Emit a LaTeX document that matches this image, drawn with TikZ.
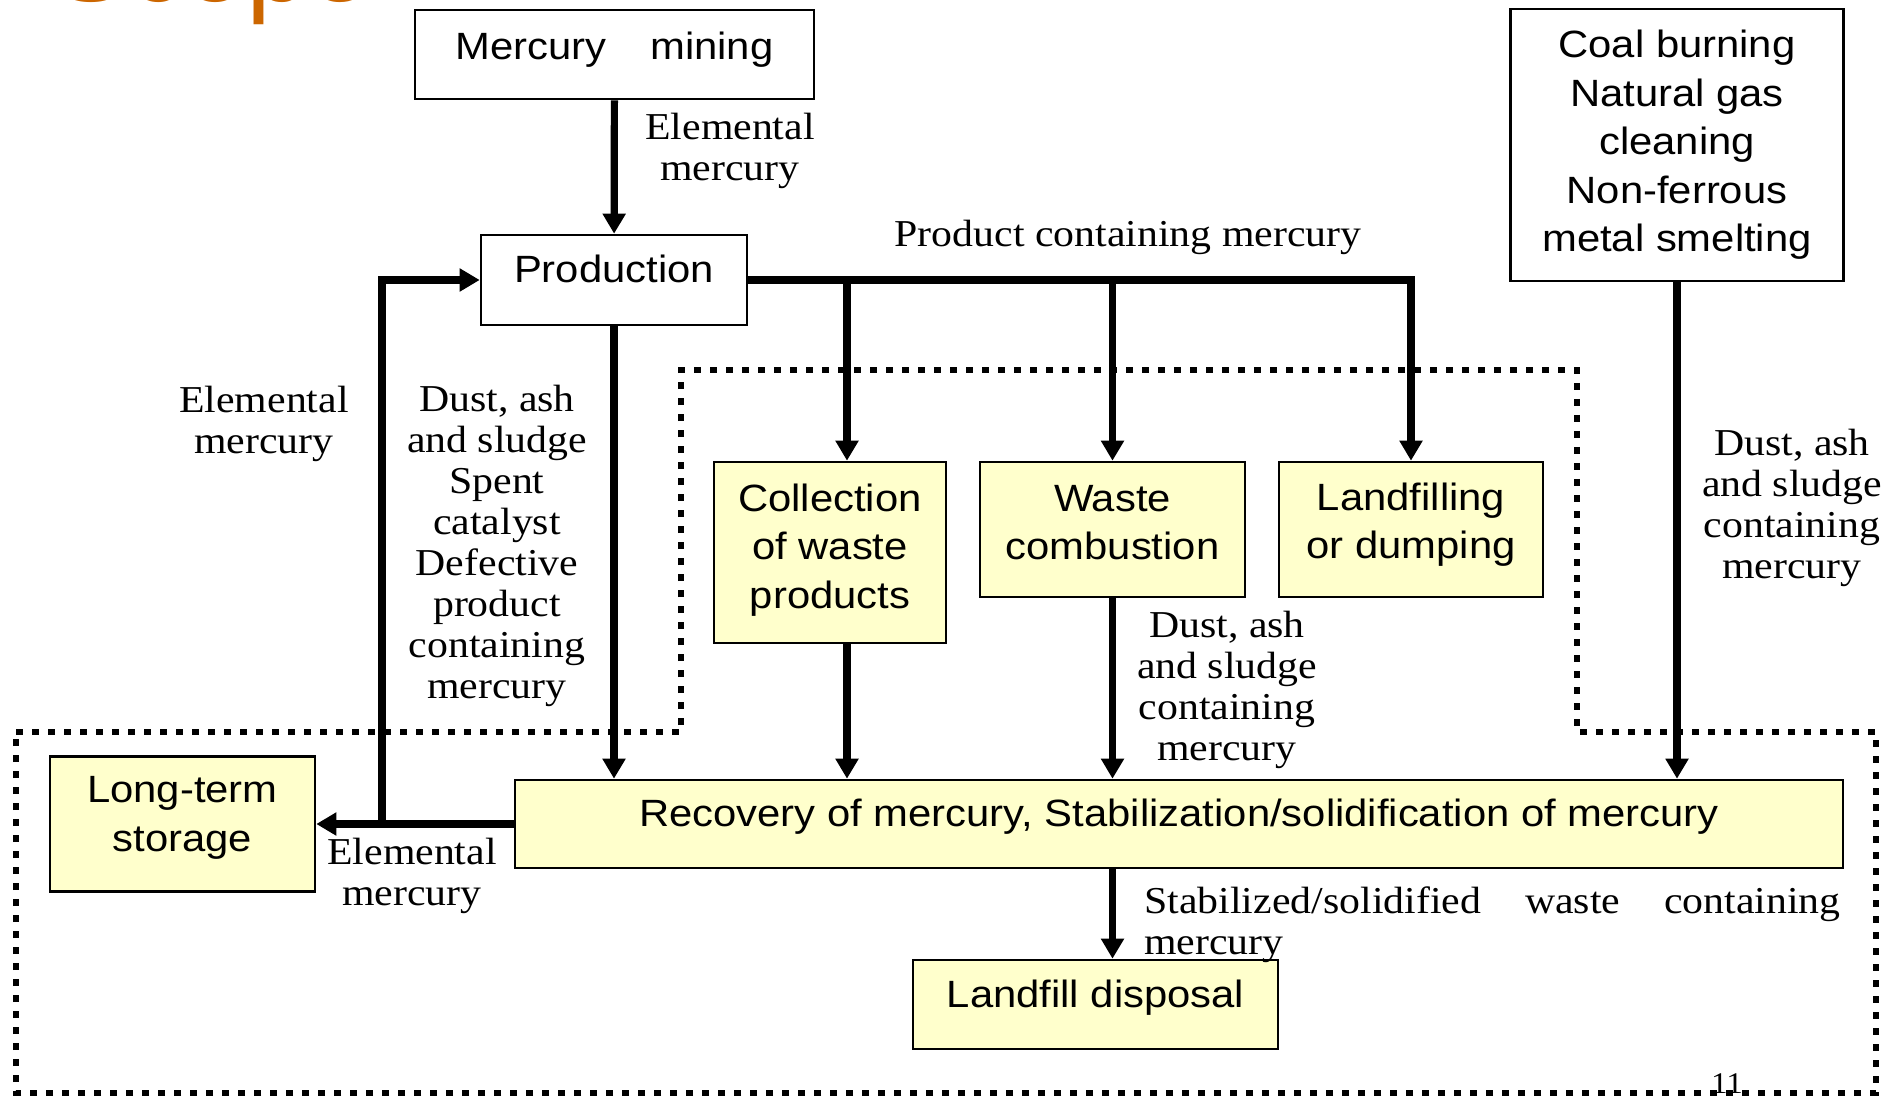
\documentclass[tikz,border=0pt]{standalone}
\usepackage{fontspec}
\setmainfont{Liberation Serif}[FakeStretch=1.1]
\setsansfont{Liberation Sans}[FakeStretch=1.1]
\newfontfamily\titlefont{Liberation Sans}
\usetikzlibrary{arrows.meta, positioning}
\definecolor{boxyellow}{RGB}{255,255,204}
\definecolor{titleorange}{RGB}{204,102,0}
\tikzstyle{arrow} = [line width=3.6pt, -{Triangle[length=10pt,width=11pt]}]
\tikzstyle{procbox} = [
    rectangle, draw=black, line width=1.3pt, fill=white, inner sep=2pt,
    align=center, text centered, font=\sffamily\fontsize{19}{24.25}\selectfont
]
\tikzstyle{procbox_Y} = [procbox, fill=boxyellow]
\tikzstyle{oneline} = [text height=14pt, text depth=11.5pt]
\tikzstyle{flowtext} = [align=center, inner sep=0pt, font=\fontsize{19}{20.5}\selectfont]
\tikzstyle{region} = [line width=3.4pt, dash pattern=on 3.4pt off 4.6pt]

\begin{document}
\begin{tikzpicture}[x=0.5pt, y=-0.5pt]
\useasboundingbox (0,0) rectangle (1901,1097);

% Treatment region
\draw [region] (16,732) -- (681,732) -- (681,370) -- (1577,370) -- (1577,732)
    -- (1876,732) -- (1876,1093) -- (16,1093) -- cycle;

% Boxes
\node (mining) [procbox, oneline, text depth=9pt, minimum width=199.5pt, minimum height=44.5pt] at (614.5,54.5) {Mercury\hspace{22pt}mining};
\node (prod) [procbox, oneline, minimum width=133pt, minimum height=45pt] at (614,280) {Production};
\node (coal) [procbox, minimum width=166.5pt, minimum height=136pt] at (1677,145) {Coal burning\\Natural gas\\cleaning\\Non-ferrous\\metal smelting};
\node (collect) [procbox_Y, text depth=6.4pt, minimum width=116pt, minimum height=90.5pt] at (830,552.5) {Collection\\of waste\\products};
\node (combust) [procbox_Y, text depth=7pt, minimum width=132.5pt, minimum height=67.5pt] at (1112.5,529.5) {Waste\\combustion};
\node (landfilling) [procbox_Y, text depth=8.8pt, minimum width=132pt, minimum height=67.5pt] at (1411,529.5) {Landfilling\\or dumping};
\node (recovery) [procbox_Y, oneline, minimum width=664pt, minimum height=44pt] at (1179,824) {Recovery of mercury, Stabilization/solidification of mercury};
\node (storage) [procbox_Y, text depth=10pt, minimum width=132.5pt, minimum height=67.5pt] at (182.5,824) {Long-term\\storage};
\node (disposal) [procbox_Y, oneline, minimum width=182.5pt, minimum height=44.5pt] at (1095.5,1004.5) {Landfill disposal};

% Flow labels
\node (elem_top) [flowtext] at (730,150.5) {Elemental\\mercury};
\node (product_lbl) [flowtext] at (1128,237.5) {Product containing mercury};
\node (elem_left) [flowtext] at (264,423.5) {Elemental\\mercury};
\node (residue_lbl) [flowtext] at (497,546) {Dust, ash\\and sludge\\Spent\\catalyst\\Defective\\product\\containing\\mercury};
\node (dust_mid) [flowtext] at (1227,689.5) {Dust, ash\\and sludge\\containing\\mercury};
\node (dust_right) [flowtext] at (1792,508) {Dust, ash\\and sludge\\containing\\mercury};
\node (elem_bottom) [flowtext] at (412,875.5) {Elemental\\mercury};
\node (stab_lbl) [flowtext, anchor=north west, text width=348pt, align=justify] at (1144,886) {Stabilized/solidified waste containing mercury};
\node (page_no) [inner sep=0pt, anchor=base, font=\fontsize{15}{15}\selectfont] at (1727,1093) {11};
\node (title_frag) [inner sep=0pt, anchor=base west, text=titleorange, font=\titlefont\fontsize{56}{56}\selectfont] at (53,2) {Scope};

\coordinate (b1) at (847,280);
\coordinate (ret) at (382,824);

% Connections
\draw [arrow] (mining) -- (prod);
\draw [arrow] (prod) -- (prod |- recovery.north);
\draw [arrow] (prod) -| (landfilling);
\draw [arrow] (b1) -- (collect.north -| b1);
\draw [arrow] (prod -| combust) -- (combust);
\draw [arrow] (collect.south -| b1) -- (recovery.north -| b1);
\draw [arrow] (combust) -- (combust |- recovery.north);
\draw [arrow] (coal) -- (coal |- recovery.north);
\draw [arrow] (recovery) -- (storage);
\draw [arrow] (ret) |- (prod);
\draw [arrow] (combust |- recovery.south) -- (combust |- disposal.north);

\end{tikzpicture}
\end{document}
